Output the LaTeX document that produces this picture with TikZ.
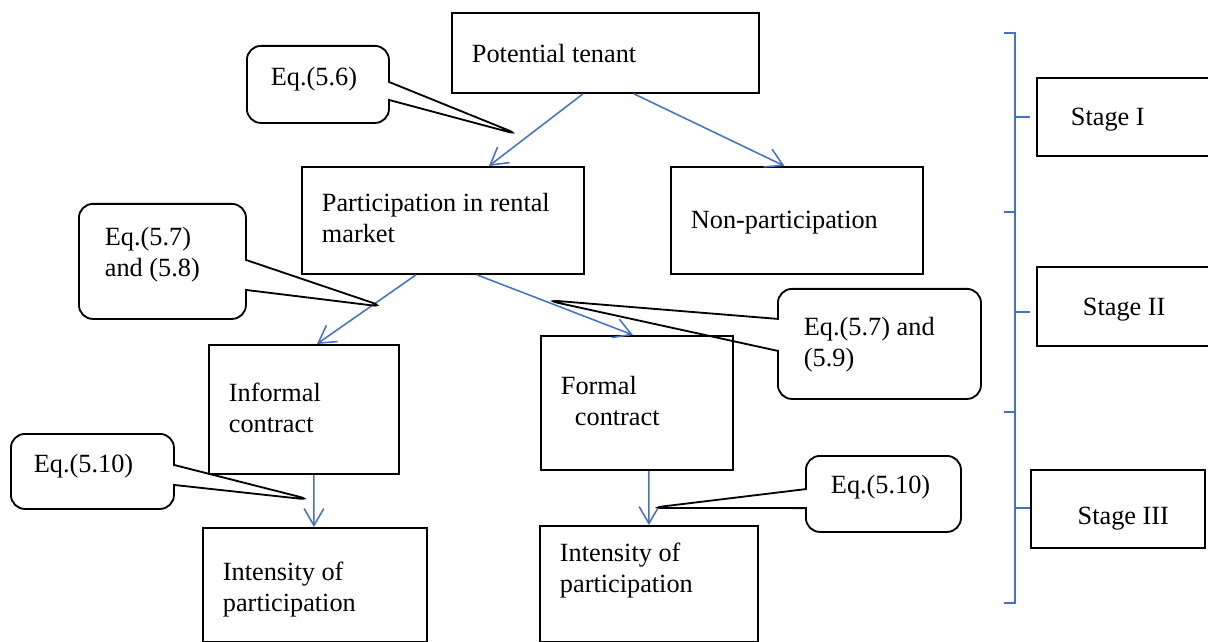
\documentclass[tikz,border=0pt]{standalone}
\usepackage{fontspec}
\setmainfont{Liberation Serif}
\usetikzlibrary{arrows.meta,shapes.callouts}
\definecolor{flowblue}{RGB}{68,114,196}

\tikzset{
  box/.style={draw, line width=1.3pt, anchor=north west, align=flush left, inner ysep=0pt, inner xsep=0.5cm},
  eqnote/.style={rectangle callout, draw, line width=1.3pt, rounded corners=0.35cm, anchor=north west, align=flush left, inner ysep=0pt},
  flow/.style={->, flowblue, line width=1.1pt},
}

\begin{document}
\begin{tikzpicture}[x=0.025cm, y=-0.025cm, >={Straight Barb[length=12pt,width=14pt]}, font=\fontsize{18.7}{22}\selectfont]
\useasboundingbox (0,0) rectangle (1208,642);

% stage I
\node[box, text width=6.675cm, text height=1.25cm, text depth=0.75cm] (tenant) at (451,12) {Potential tenant};

% stage II
\node[box, text width=6.05cm, text height=1.125cm, text depth=1.55cm] (part) at (301,166) {Participation in rental\\market};
\node[box, text width=5.3cm, text height=1.55cm, text depth=1.125cm] (nonpart) at (670,166) {Non-participation};
\node[box, text width=3.75cm, text height=1.425cm, text depth=1.8cm] (informal) at (208,344) {Informal\\contract};
\node[box, text width=3.8cm, text height=1.475cm, text depth=1.875cm] (formal) at (540,335) {Formal\\\hspace*{0.35cm}contract};

% stage III
\node[box, text width=4.6cm, text height=1.325cm, text depth=1.525cm] (intenl) at (202,527) {Intensity of\\participation};
\node[box, text width=4.45cm, text height=0.9cm, text depth=2cm] (intenr) at (539,525) {Intensity of\\participation};

% flows
\draw[flow] ([xshift=-0.5625cm]tenant.south) -- ([xshift=1.15cm]part.north);
\draw[flow] ([xshift=0.7125cm]tenant.south) -- ([xshift=-0.3125cm]nonpart.north);
\draw[flow] ([xshift=-0.675cm]part.south) -- ([xshift=0.325cm]informal.north);
\draw[flow] ([xshift=0.85cm]part.south) -- ([xshift=-0.1cm]formal.north);
\draw[flow] ([xshift=0.25cm]informal.south) -- ([xshift=-0.025cm]intenl.north);
\draw[flow] ([xshift=0.3cm]formal.south) -- (intenr.north);

% equations
\coordinate (tipA) at (520,135);
\coordinate (tipB) at (385,307);
\coordinate (tipC) at (545,300);
\coordinate (tipD) at (312,500);
\coordinate (tipE) at (650,508);
\node[eqnote, inner xsep=0.6cm, text width=2.35cm, text height=1cm, text depth=0.925cm,
  callout absolute pointer={(tipA)}, callout pointer width=0.45cm] (eqA) at (246,45) {Eq.(5.6)};
\node[eqnote, inner xsep=0.65cm, text width=2.875cm, text height=1.05cm, text depth=1.825cm,
  callout absolute pointer={(tipB)}, callout pointer width=0.75cm] (eqB) at (78,203) {Eq.(5.7)\\and (5.8)};
\node[eqnote, inner xsep=0.65cm, text width=3.775cm, text height=1.175cm, text depth=1.575cm,
  callout absolute pointer={(tipC)}, callout pointer width=0.8cm] (eqC) at (777,288) {Eq.(5.7) and\\(5.9)};
\node[eqnote, inner xsep=0.575cm, text width=2.925cm, text height=0.975cm, text depth=0.9cm,
  callout absolute pointer={(tipD)}, callout pointer width=0.5cm] (eqD) at (10,433) {Eq.(5.10)};
\node[eqnote, inner xsep=0.625cm, text width=2.625cm, text height=0.95cm, text depth=0.95cm,
  callout absolute pointer={(tipE)}, callout pointer width=0.475cm] (eqE) at (805,455) {Eq.(5.10)};

% stages
\node[box, inner xsep=0.85cm, text width=3.75cm, text height=1.2cm, text depth=0.75cm] (s1) at (1036,77) {Stage I};
\node[box, inner xsep=1.15cm, text width=3.75cm, text height=1.225cm, text depth=0.75cm] (s2) at (1036,266) {Stage II};
\node[box, align=flush right, inner xsep=0.9cm, text width=2.55cm, text height=1.375cm, text depth=0.575cm] (s3) at (1030,469) {Stage III};

\draw[flowblue, line width=1.1pt] (1004,33) -- (1015,33) -- (1015,603) -- (1004,603);
\draw[flowblue, line width=1.1pt] (1015,117) -- (1030,117);
\draw[flowblue, line width=1.1pt] (1015,212) -- (1004,212);
\draw[flowblue, line width=1.1pt] (1015,312) -- (1030,312);
\draw[flowblue, line width=1.1pt] (1015,412) -- (1004,412);
\draw[flowblue, line width=1.1pt] (1015,508) -- (1030,508);

\end{tikzpicture}
\end{document}
